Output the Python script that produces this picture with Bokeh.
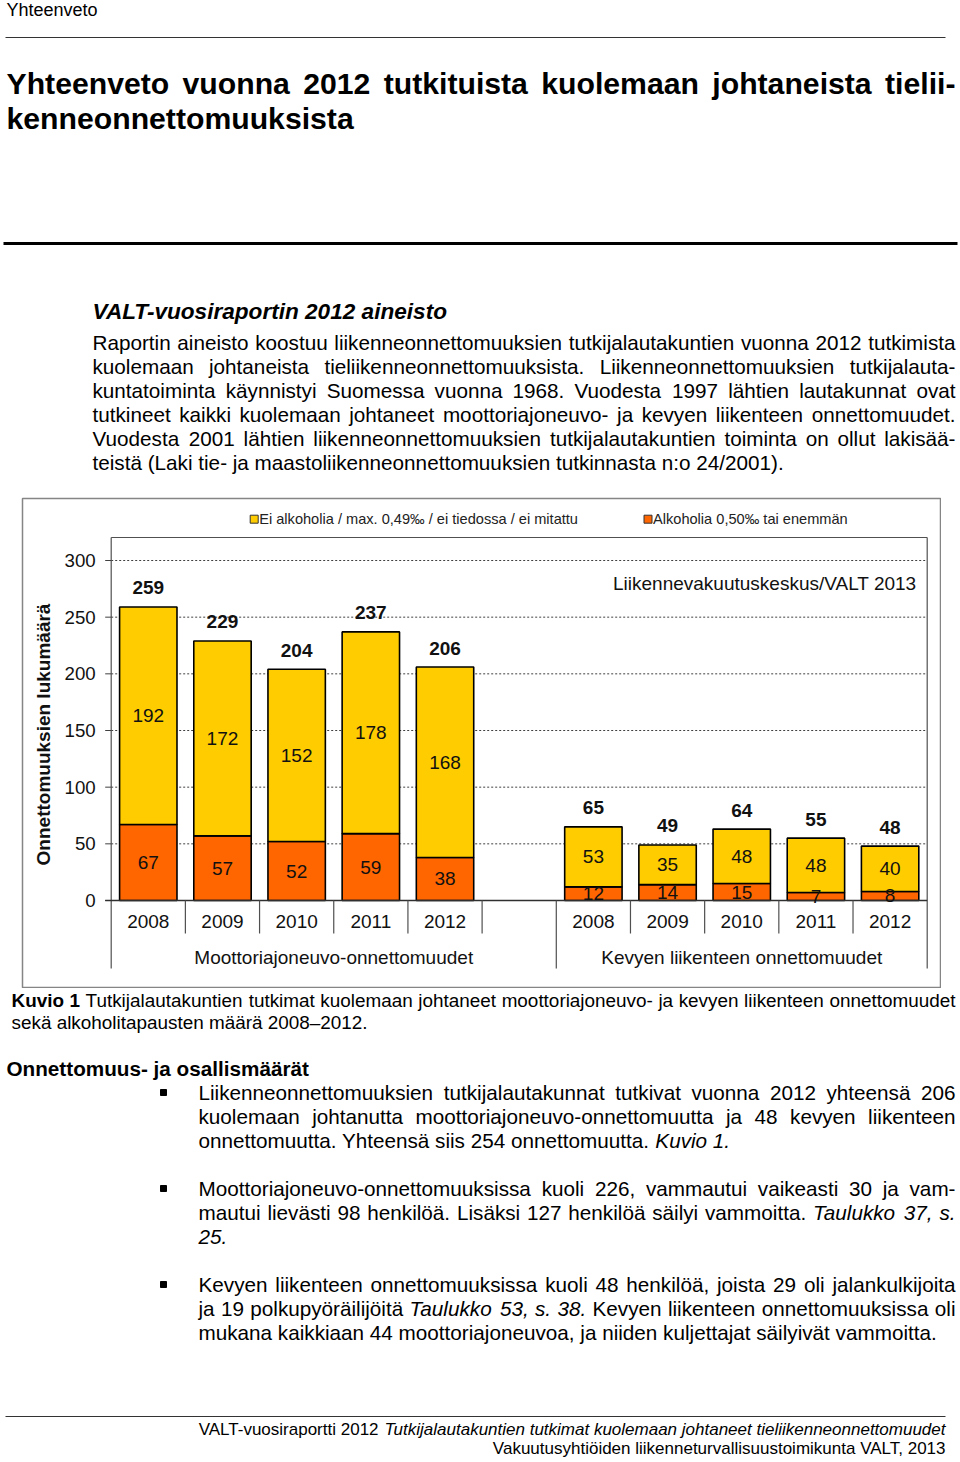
import math
from bokeh.plotting import figure
from bokeh.models import Range1d, ColumnDataSource, Spacer
from bokeh.layouts import column, row
from bokeh.embed import file_html
from bokeh.resources import INLINE
from bokeh.core.properties import value, field

# ---------------- chart data ----------------
years = ["2008", "2009", "2010", "2011", "2012"]
groups = ["Moottoriajoneuvo-onnettomuudet", "Kevyen liikenteen onnettomuudet"]
motor_alcohol = [67, 57, 52, 59, 38]
motor_sober = [192, 172, 152, 178, 168]
motor_total = [259, 229, 204, 237, 206]
light_alcohol = [12, 14, 15, 7, 8]
light_sober = [53, 35, 48, 48, 40]
light_total = [65, 49, 64, 55, 48]
series_names = ["Ei alkoholia / max. 0,49\u2030 / ei tiedossa / ei mitattu",
                "Alkoholia 0,50\u2030 tai enemm\u00e4n"]
series_colors = ["#FFCC00", "#FF6600"]
y_ticks = [0, 50, 100, 150, 200, 250, 300]
y_title = "Onnettomuuksien lukum\u00e4\u00e4r\u00e4"
source_note = "Liikennevakuutuskeskus/VALT 2013"

FONT = "Liberation Sans"
PAGE_W, PAGE_H = 960, 1462

# ---------------- chart layout (pixels) ----------------
BOX_L, BOX_R, BOX_T, BOX_B = 22, 940, 498, 987        # outer chart box
PLOT_L, PLOT_R = 110.7, 926.7                         # inner plot area
ZERO_Y, PX_PER_UNIT = 900.0, 340.0 / 300.0
N_SLOTS = 11
SLOT = (PLOT_R - PLOT_L) / N_SLOTS


def dx(px):   # pixel offset -> slot units
    return px / SLOT


def du(px):   # pixel offset -> value units
    return px / PX_PER_UNIT


x_lo = -0.5 - dx(PLOT_L - BOX_L)
x_hi = N_SLOTS - 0.5 + dx(BOX_R - PLOT_R)
y_hi = du(ZERO_Y - BOX_T)
y_lo = -du(BOX_B - ZERO_Y)
plot_top = du(ZERO_Y - 537)
plot_bot = -du(968 - ZERO_Y)

chart = figure(width=BOX_R - BOX_L + 2, height=BOX_B - BOX_T + 2,
               x_range=Range1d(x_lo, x_hi), y_range=Range1d(y_lo, y_hi),
               output_backend="svg", toolbar_location=None, tools="",
               x_axis_type=None, y_axis_type=None, min_border=1)
chart.grid.visible = False
chart.outline_line_color = "#858585"
chart.outline_line_width = 1.5
chart.background_fill_color = "white"
chart.border_fill_color = "white"

# grid lines
grid_vals = [t for t in y_ticks if t > 0]
chart.segment(x0=[-0.5] * len(grid_vals), x1=[N_SLOTS - 0.5] * len(grid_vals),
              y0=grid_vals, y1=grid_vals, line_color="#404040", line_width=1,
              line_dash="2 2")

# bars
mx = list(range(len(years)))
lx = [len(years) + 1 + i for i in range(len(years))]
xs = mx + lx
alc = motor_alcohol + light_alcohol
sob = motor_sober + light_sober
tot = motor_total + light_total
bw = 57.4 / SLOT
chart.vbar(x=xs, bottom=0, top=alc, width=bw, fill_color=series_colors[1],
           line_color="black", line_width=1.6)
chart.vbar(x=xs, bottom=alc, top=[a + s for a, s in zip(alc, sob)], width=bw,
           fill_color=series_colors[0], line_color="black", line_width=1.6)

# inner plot frame / axis lines
chart.segment(x0=[-0.5, N_SLOTS - 0.5, -0.5], x1=[-0.5, N_SLOTS - 0.5, N_SLOTS - 0.5],
              y0=[plot_bot, plot_bot, plot_top], y1=[plot_top, plot_top, plot_top],
              line_color="#505050", line_width=1.2)
tick_x0 = -0.5 - dx(6)
chart.segment(x0=[tick_x0] * len(y_ticks), x1=[-0.5] * len(y_ticks), y0=y_ticks, y1=y_ticks,
              line_color="#404040", line_width=1)
chart.segment(x0=[tick_x0], x1=[N_SLOTS - 0.5], y0=[0], y1=[0], line_color="#303030", line_width=1.3)
# category dividers
short_div = [i + 0.5 for i in range(len(years))] + [lx[i] + 0.5 for i in range(len(years) - 1)]
chart.segment(x0=short_div, x1=short_div, y0=[0] * len(short_div), y1=[-du(33)] * len(short_div),
              line_color="#505050", line_width=1.2)
chart.segment(x0=[len(years) + 0.5], x1=[len(years) + 0.5], y0=[0], y1=[plot_bot],
              line_color="#505050", line_width=1.2)

tf = value(FONT)
# segment value labels
seg_src = ColumnDataSource(dict(
    x=xs + xs,
    y=[a / 2 for a in alc] + [a + s / 2 for a, s in zip(alc, sob)],
    t=[str(v) for v in alc] + [str(v) for v in sob]))
chart.text(x="x", y="y", text="t", source=seg_src, text_font=tf, text_font_size="19px",
           text_align="center", text_baseline="middle", text_color="#111111")
# totals
chart.text(x=xs, y=[a + s + du(19) for a, s in zip(alc, sob)], text=[str(v) for v in tot],
           text_font=tf, text_font_size="19px", text_font_style="bold",
           text_align="center", text_baseline="middle", text_color="#111111")
# year labels
chart.text(x=xs, y=[-du(21)] * len(xs), text=years + years, text_font=tf, text_font_size="19px",
           text_align="center", text_baseline="middle", text_color="#111111")
# group labels
chart.text(x=[(-0.5 + len(years) + 0.5) / 2, (lx[0] + lx[-1]) / 2],
           y=[-du(57)] * 2, text=groups, text_font=tf, text_font_size="19px",
           text_align="center", text_baseline="middle", text_color="#111111")
# y tick labels
chart.text(x=[-0.5 - dx(15.5)] * len(y_ticks), y=y_ticks, text=[str(t) for t in y_ticks],
           text_font=tf, text_font_size="18.7px", text_align="right", text_baseline="middle",
           text_color="#111111")
# y axis title
chart.text(x=[-0.5 - dx(PLOT_L - 43)], y=[du(ZERO_Y - 734)], text=[y_title], angle=math.pi / 2,
           text_font=tf, text_font_size="19px", text_font_style="bold",
           text_align="center", text_baseline="middle", text_color="#111111")
# source note
chart.text(x=[-0.5 + dx(916 - PLOT_L)], y=[du(ZERO_Y - 583)], text=[source_note],
           text_font=tf, text_font_size="19px", text_align="right", text_baseline="middle",
           text_color="#111111")
# legend
leg_x = [-0.5 + dx(253.7 - PLOT_L), -0.5 + dx(647.5 - PLOT_L)]
leg_y = du(ZERO_Y - 518.7)
chart.rect(x=leg_x, y=[leg_y] * 2, width=8, height=8, width_units="screen", height_units="screen",
           fill_color=series_colors, line_color="#333333", line_width=1)
chart.text(x=[v + dx(5) for v in leg_x], y=[leg_y] * 2, text=series_names, text_font=tf,
           text_font_size="14.6px", text_align="left", text_baseline="middle", text_color="#222222")

# ---------------- page text ----------------
REG = {}
for ch, w in zip("abcdefghijklmnopqrstuvwxyz",
                 [556, 556, 500, 556, 556, 278, 556, 556, 222, 222, 500, 222, 833, 556, 556, 556, 556, 333, 500, 278, 556, 500, 722, 500, 500, 500]):
    REG[ch] = w
for ch, w in zip("ABCDEFGHIJKLMNOPQRSTUVWXYZ",
                 [667, 667, 722, 722, 667, 611, 778, 722, 278, 500, 667, 556, 833, 722, 778, 667, 778, 722, 667, 611, 722, 667, 944, 667, 667, 611]):
    REG[ch] = w
REG.update({" ": 278, ",": 278, ".": 278, "-": 333, ":": 278, "/": 278, "(": 333, ")": 333,
            "\u00e4": 556, "\u00f6": 556, "\u2013": 556, "\u2030": 1000})
for d in "0123456789":
    REG[d] = 556
BOLD = {}
for ch, w in zip("abcdefghijklmnopqrstuvwxyz",
                 [556, 611, 556, 611, 556, 333, 611, 611, 278, 278, 556, 278, 889, 611, 611, 611, 611, 389, 556, 333, 611, 556, 778, 556, 556, 500]):
    BOLD[ch] = w
for ch, w in zip("ABCDEFGHIJKLMNOPQRSTUVWXYZ",
                 [722, 722, 722, 722, 667, 611, 778, 722, 278, 556, 722, 611, 833, 722, 778, 667, 778, 722, 667, 611, 722, 667, 944, 667, 667, 611]):
    BOLD[ch] = w
BOLD.update({" ": 278, ",": 278, ".": 278, "-": 333, ":": 333, "/": 278, "(": 333, ")": 333,
             "\u00e4": 556, "\u00f6": 611, "\u2013": 556})
for d in "0123456789":
    BOLD[d] = 556


def wid(s, style, size):
    tab = BOLD if "bold" in style else REG
    return sum(tab.get(c, 556) for c in s) / 1000.0 * size


def add_line(items, runs, y, size, x0=None, x1=None, mode="left"):
    sz = "%.1fpx" % size
    sp = 0.278 * size
    if mode == "justify":
        words = []
        for txt, st in runs:
            for w in txt.split():
                words.append((w, st))
        widths = [wid(w, st, size) for w, st in words]
        gap = (x1 - x0 - sum(widths)) / (len(words) - 1)
        x = x0
        for k, ((w, st), ww) in enumerate(zip(words, widths)):
            if k == len(words) - 1:
                items.append(dict(x=x1, y=y, t=w, st=st, sz=sz, al="right"))
            else:
                items.append(dict(x=x, y=y, t=w, st=st, sz=sz, al="left"))
            x += ww + gap
    elif mode == "right":
        x = x1
        for txt, st in reversed(runs):
            items.append(dict(x=x, y=y, t=txt, st=st, sz=sz, al="right"))
            x -= wid(txt, st, size) + sp
    else:
        x = x0
        for txt, st in runs:
            items.append(dict(x=x, y=y, t=txt, st=st, sz=sz, al="left"))
            x += wid(txt, st, size) + sp


def page_fig(y0, y1):
    p = figure(width=PAGE_W, height=int(y1 - y0), x_range=Range1d(0, PAGE_W), y_range=Range1d(y1, y0),
               output_backend="svg", toolbar_location=None, tools="",
               x_axis_type=None, y_axis_type=None, min_border=0)
    p.grid.visible = False
    p.outline_line_color = None
    return p


def draw_items(p, items):
    src = ColumnDataSource(dict(x=[i["x"] for i in items], y=[i["y"] for i in items],
                                t=[i["t"] for i in items], st=[i["st"] for i in items],
                                sz=[i["sz"] for i in items], al=[i["al"] for i in items]))
    p.text(x="x", y="y", text="t", source=src, text_font=value(FONT),
           text_font_size=field("sz"), text_font_style=field("st"),
           text_align=field("al"), text_baseline="middle", text_color="black")


N, B, I, BI = "normal", "bold", "italic", "bold italic"
BODY = 20.7
TOP_END = BOX_T - 1
BOT_START = BOX_B + 1

top = page_fig(0, TOP_END)
items = []
add_line(items, [("Yhteenveto", N)], 9, 18.0, x0=6)
add_line(items, [("Yhteenveto vuonna 2012 tutkituista kuolemaan johtaneista tielii-", B)], 83, 30.2, 6, 955, "justify")
add_line(items, [("kenneonnettomuuksista", B)], 118, 30.2, x0=6)
add_line(items, [("VALT-vuosiraportin 2012 aineisto", BI)], 311, 22.6, x0=92)
body = [
    "Raportin aineisto koostuu liikenneonnettomuuksien tutkijalautakuntien vuonna 2012 tutkimista",
    "kuolemaan johtaneista tieliikenneonnettomuuksista. Liikenneonnettomuuksien tutkijalauta-",
    "kuntatoiminta k\u00e4ynnistyi Suomessa vuonna 1968. Vuodesta 1997 l\u00e4htien lautakunnat ovat",
    "tutkineet kaikki kuolemaan johtaneet moottoriajoneuvo- ja kevyen liikenteen onnettomuudet.",
    "Vuodesta 2001 l\u00e4htien liikenneonnettomuuksien tutkijalautakuntien toiminta on ollut lakis\u00e4\u00e4-",
    "teist\u00e4 (Laki tie- ja maastoliikenneonnettomuuksien tutkinnasta n:o 24/2001).",
]
for k, ln in enumerate(body):
    add_line(items, [(ln, N)], 342 + 24 * k, BODY, 92, 955, "justify" if k < len(body) - 1 else "left")
draw_items(top, items)
top.segment(x0=[5], x1=[945], y0=[37], y1=[37], line_color="#333333", line_width=1)
top.segment(x0=[3], x1=[957], y0=[243], y1=[243], line_color="black", line_width=3)

bot = page_fig(BOT_START, PAGE_H)
items = []
add_line(items, [("Kuvio 1", B), ("Tutkijalautakuntien tutkimat kuolemaan johtaneet moottoriajoneuvo- ja kevyen liikenteen onnettomuudet", N)],
         1000, 18.9, 11, 955, "justify")
add_line(items, [("sek\u00e4 alkoholitapausten m\u00e4\u00e4r\u00e4 2008\u20132012.", N)], 1022, 18.9, x0=11)
add_line(items, [("Onnettomuus- ja osallism\u00e4\u00e4r\u00e4t", B)], 1068, BODY, x0=6)
bullets = [
    [([("Liikenneonnettomuuksien tutkijalautakunnat tutkivat vuonna 2012 yhteens\u00e4 206", N)], "justify"),
     ([("kuolemaan johtanutta moottoriajoneuvo-onnettomuutta ja 48 kevyen liikenteen", N)], "justify"),
     ([("onnettomuutta. Yhteens\u00e4 siis 254 onnettomuutta.", N), ("Kuvio 1.", I)], "left")],
    [([("Moottoriajoneuvo-onnettomuuksissa kuoli 226, vammautui vaikeasti 30 ja vam-", N)], "justify"),
     ([("mautui liev\u00e4sti 98 henkil\u00f6\u00e4. Lis\u00e4ksi 127 henkil\u00f6\u00e4 s\u00e4ilyi vammoitta.", N), ("Taulukko 37, s.", I)], "justify"),
     ([("25.", I)], "left")],
    [([("Kevyen liikenteen onnettomuuksissa kuoli 48 henkil\u00f6\u00e4, joista 29 oli jalankulkijoita", N)], "justify"),
     ([("ja 19 polkupy\u00f6r\u00e4ilij\u00f6it\u00e4", N), ("Taulukko 53, s. 38.", I), ("Kevyen liikenteen onnettomuuksissa oli", N)], "justify"),
     ([("mukana kaikkiaan 44 moottoriajoneuvoa, ja niiden kuljettajat s\u00e4ilyiv\u00e4t vammoitta.", N)], "left")],
]
bullet_y = []
for b, para in enumerate(bullets):
    y0 = 1092 + 96 * b
    bullet_y.append(y0)
    for k, (runs, mode) in enumerate(para):
        add_line(items, runs, y0 + 24 * k, BODY, 198, 955, mode)
add_line(items, [("VALT-vuosiraportti 2012", N), ("Tutkijalautakuntien tutkimat kuolemaan johtaneet tieliikenneonnettomuudet", I)],
         1429, 17.0, x1=945, mode="right")
add_line(items, [("Vakuutusyhti\u00f6iden liikenneturvallisuustoimikunta VALT, 2013", N)], 1448, 17.0, x1=945, mode="right")
draw_items(bot, items)
bot.scatter(x=[163] * len(bullet_y), y=bullet_y, marker="square", size=6, fill_color="black", line_color="black")
bot.segment(x0=[5], x1=[945], y0=[1416], y1=[1416], line_color="#333333", line_width=1)

left_pad = BOX_L - 1
layout = column(top,
                row(Spacer(width=left_pad, height=chart.height), chart,
                    Spacer(width=PAGE_W - left_pad - chart.width, height=chart.height)),
                bot, spacing=0)

open("out.html", "w").write(file_html(layout, INLINE))
